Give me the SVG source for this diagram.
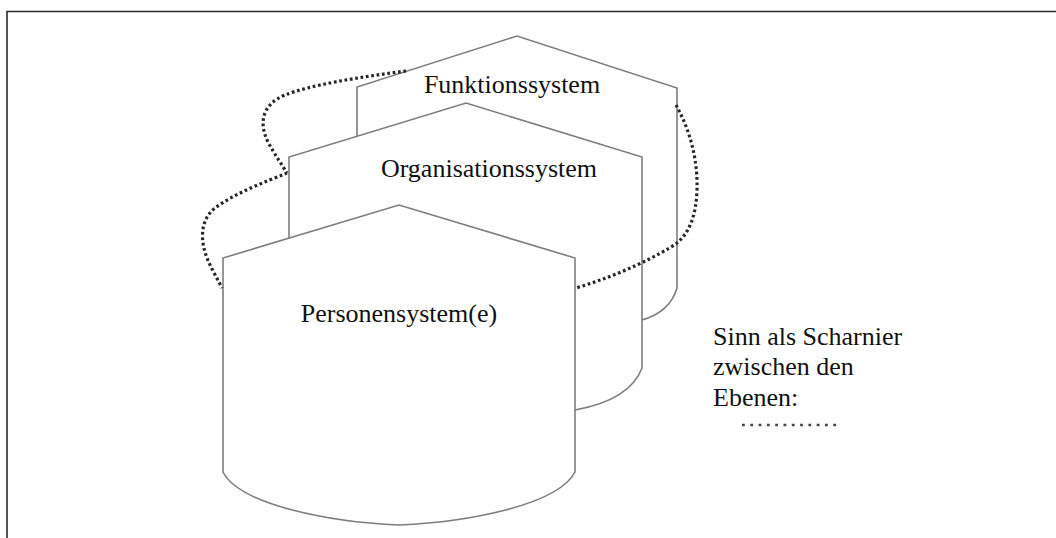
<svg xmlns="http://www.w3.org/2000/svg" width="1056" height="538" viewBox="0 0 1056 538">
  <style>
    .frame { fill: none; stroke: #2a2a2a; stroke-width: 1.6; }
    .level { fill: #ffffff; stroke: #7d7d7d; stroke-width: 1.6; stroke-linejoin: miter; }
    .label { font-family: "Liberation Serif", "Times New Roman", serif; font-size: 26px; fill: #111111; }
    .hinge { fill: none; stroke: #262626; stroke-width: 3.2; stroke-linecap: butt; stroke-dasharray: 2.7 2.7; }
    .key { fill: none; stroke: #444444; stroke-width: 2.6; stroke-linecap: butt; stroke-dasharray: 2.8 5.5; }
  </style>
  <defs>
    <filter id="soft" filterUnits="userSpaceOnUse" x="725" y="412" width="130" height="26">
      <feGaussianBlur stdDeviation="0.6"/>
    </filter>
  </defs>

  <rect width="1056" height="538" fill="#ffffff"/>

  <!-- open frame: top and left edges -->
  <path class="frame" d="M7,538 L7,11.5 L1056,11.5"/>

  <!-- back level -->
  <g id="funktionssystem">
    <path class="level" d="M357,136 L357,87 L517,36 L677,88 L677,288 Q670,312 642,320 L642,157 L466,103 L289,157 Z" style="stroke:none"/>
    <path class="level" style="fill:none" d="M357,136 L357,87 L517,36 L677,88 L677,288 Q670,312 642,320"/>
    <text class="label" x="512" y="93" text-anchor="middle">Funktionssystem</text>
  </g>

  <!-- middle level -->
  <g id="organisationssystem">
    <path class="level" d="M289,238 L289,157 L466,103 L642,157 L642,368 Q630,400 575,410 L575,258 L399,205 L223,258 Z" style="stroke:none"/>
    <path class="level" style="fill:none" d="M289,238 L289,157 L466,103 L642,157 L642,368 Q630,400 575,410"/>
    <text class="label" x="489" y="177" text-anchor="middle">Organisationssystem</text>
  </g>

  <!-- front level -->
  <g id="personensystem">
    <path class="level" d="M223,472 L223,258 L399,205 L575,258 L575,472 C558,505 468,522 399,525 C330,522 240,505 223,472 Z"/>
    <text class="label" x="399" y="322" text-anchor="middle">Personensystem(e)</text>
  </g>

  <!-- dotted hinge lines linking the levels -->
  <g id="connectors">
    <path class="hinge" d="M406,71 C360,77 310,85 285,95 C263,104 258,122 268,142 C275,155 282,165 287,173"/>
    <path class="hinge" d="M287,173 C265,182 235,193 215,208 C200,220 200,240 207,258 C211,268 217,278 222,288"/>
    <path class="hinge" d="M676,105 C690,130 698,160 697,190 C696,215 690,232 677,243 C660,255 620,275 576,288"/>
  </g>

  <!-- legend -->
  <g id="legend">
    <text class="label" x="713" y="345">Sinn als Scharnier</text>
    <text class="label" x="713" y="375">zwischen den</text>
    <text class="label" x="713" y="406">Ebenen:</text>
    <path class="key" d="M742,425 L839,425" filter="url(#soft)"/>
  </g>
</svg>
